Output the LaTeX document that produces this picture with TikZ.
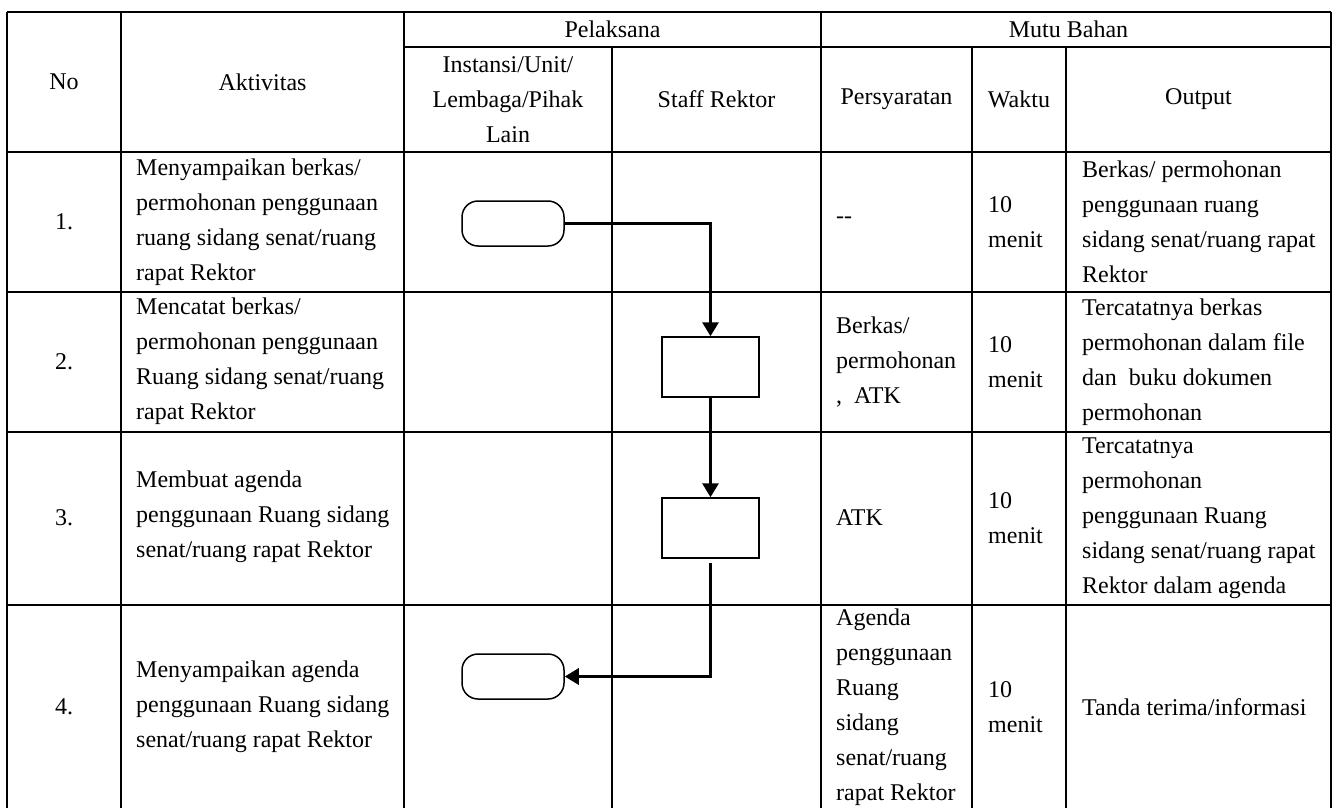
\documentclass[tikz,border=0pt]{standalone}
\usepackage{fontspec}
\setmainfont{Liberation Serif}
\usetikzlibrary{arrows.meta,positioning}

\begin{document}
\begin{tikzpicture}[%
	x=1pt,y=-1pt,>={Triangle[length=14pt,width=16pt]},
	every node/.style={font=\fontsize{24}{35}\selectfont,inner sep=0pt},
	cell/.style={anchor=west,align=left},
	head/.style={align=center},
	grid/.style={line width=1.8pt},
	term/.style={draw,line width=1.5pt,rounded corners=16pt,minimum width=102pt,minimum height=45pt},
	proc/.style={draw,line width=1.5pt,minimum width=97pt,minimum height=60pt},
	flow/.style={->,line width=3pt}]

	\useasboundingbox (0,0) rectangle (1337,808);

	% table lines
	\draw[grid] (7,12) -- (1331,12);
	\draw[grid] (404,47) -- (1331,47);
	\draw[grid] (7,152) -- (1331,152);
	\draw[grid] (7,292) -- (1331,292);
	\draw[grid] (7,432) -- (1331,432);
	\draw[grid] (7,605) -- (1331,605);
	\draw[grid] (7,12) -- (7,808);
	\draw[grid] (121,12) -- (121,808);
	\draw[grid] (404,12) -- (404,808);
	\draw[grid] (612,47) -- (612,808);
	\draw[grid] (821,12) -- (821,808);
	\draw[grid] (972,47) -- (972,808);
	\draw[grid] (1066,47) -- (1066,808);
	\draw[grid] (1331,12) -- (1331,808);

	% header
	\node (hNo)     at (64,82)     {No};
	\node (hAkt)    at (262.5,82)  {Aktivitas};
	\node (hPel)    at (612.5,29.5) {Pelaksana};
	\node (hMutu)   at (1068.5,29.5) {Mutu Bahan};
	\node (hInst)   [head] at (508,99.5) {Instansi/Unit/\\Lembaga/Pihak\\Lain};
	\node (hStaff)  at (716.5,99.5) {Staff Rektor};
	\node (hSyarat) at (896.5,99.5) {Persyaratan};
	\node (hWaktu)  at (1019,99.5) {Waktu};
	\node (hOut)    at (1198.5,99.5) {Output};

	% rows
	\foreach \y/\i in {222/1,362/2,518/3,707/4}{
		\node (n\i) at (64,\y) {\i.};
		\node (w\i) [cell] at (988,\y) {10\\menit};
	}

	\node (a1) [cell] at (136,222) {Menyampaikan berkas/\\permohonan penggunaan\\ruang sidang senat/ruang\\rapat Rektor};
	\node (a2) [cell] at (136,361) {Mencatat berkas/\\permohonan penggunaan\\Ruang sidang senat/ruang\\rapat Rektor};
	\node (a3) [cell] at (136,517) {Membuat agenda\\penggunaan Ruang sidang\\senat/ruang rapat Rektor};
	\node (a4) [cell] at (136,707) {Menyampaikan agenda\\penggunaan Ruang sidang\\senat/ruang rapat Rektor};

	\node (s1) [cell] at (836,220) {-{}-};
	\node (s2) [cell] at (836,362) {Berkas/\\permohonan\\,\ \ ATK};
	\node (s3) [cell] at (836,518) {ATK};
	\node (s4) [cell] at (836,707) {Agenda\\penggunaan\\Ruang\\sidang\\senat/ruang\\rapat Rektor};

	\node (o1) [cell] at (1082,222) {Berkas/ permohonan\\penggunaan ruang\\sidang senat/ruang rapat\\Rektor};
	\node (o2) [cell] at (1082,362) {Tercatatnya berkas\\permohonan dalam file\\dan\ \ buku dokumen\\permohonan};
	\node (o3) [cell] at (1082,518) {Tercatatnya\\permohonan\\penggunaan Ruang\\sidang senat/ruang rapat\\Rektor dalam agenda};
	\node (o4) [cell] at (1082,707) {Tanda terima/informasi};

	% flow
	\node[term] (T1) at (513,223.5) {};
	\node[proc] (P2) at (710.5,367) {};
	\node[proc] (P3) at (710.5,528) {};
	\node[term] (T4) at (513,676.5) {};

	\draw[flow] (T1.east) -| (P2.north);
	\draw[flow] (P2.south) -- (P3.north);
	\draw[flow,shorten <=4pt] (P3.south) |- (T4.east);

\end{tikzpicture}
\end{document}
